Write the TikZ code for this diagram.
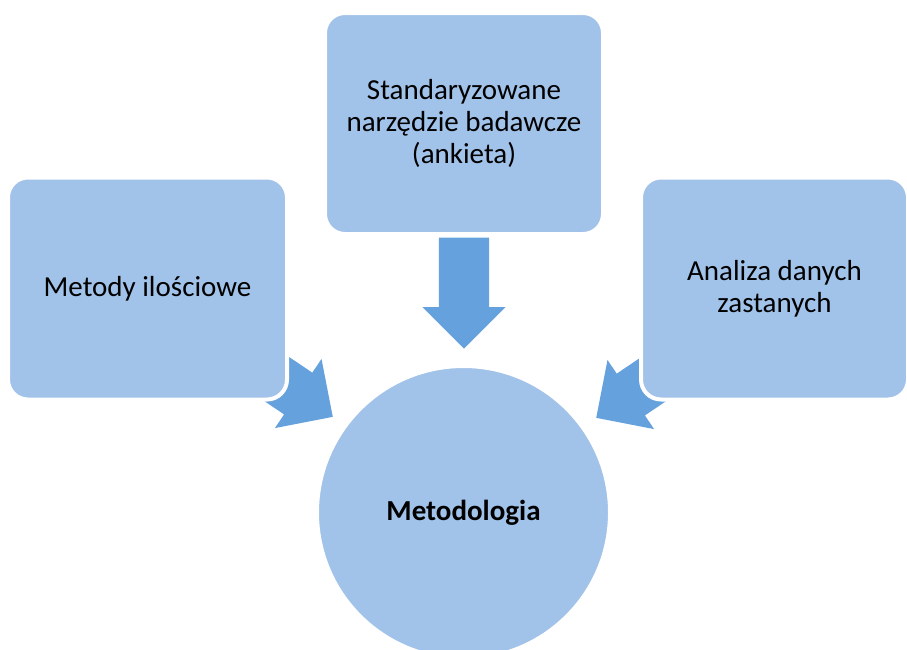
\documentclass[tikz,border=0pt]{standalone}
\usepackage{fontspec}
\setmainfont{Carlito}
\usetikzlibrary{shapes.arrows}
\definecolor{boxblue}{RGB}{161,194,233}
\definecolor{arrowblue}{RGB}{101,161,221}

\begin{document}
\begin{tikzpicture}[x=1pt, y=-1pt,
	box/.style={rectangle, rounded corners=20pt, fill=boxblue, draw=white, line width=4pt, align=center, inner sep=0pt, font=\fontsize{29}{32}\selectfont},
	bigarrow/.style={single arrow, anchor=tip, fill=arrowblue, draw=none, inner xsep=0pt, inner ysep=25pt, minimum height=111pt, single arrow head extend=16.5pt, single arrow tip angle=90}]
	\useasboundingbox (0,0) rectangle (907,649);

	% arrows (under the boxes)
	\node[bigarrow, rotate=-90] (arrtop) at (464,349) {};
	\node[bigarrow, rotate=-34] (arrleft) at (333,417) {};
	\node[bigarrow, rotate=-146] (arrright) at (596,418) {};

	% boxes
	\node[box, minimum width=279pt, minimum height=222pt] (ilosc) at (147.5,288.5) {Metody ilościowe};
	\node[box, minimum width=278pt, minimum height=221pt] (ankieta) at (464,123.5) {Standaryzowane\\narzędzie badawcze\\(ankieta)};
	\node[box, minimum width=267pt, minimum height=222pt] (analiza) at (774.5,288.5) {Analiza danych\\zastanych};

	% centre
	\node[circle, fill=boxblue, draw=white, line width=4pt, minimum size=293pt, font=\bfseries\fontsize{29}{32}\selectfont] (metod) at (463.5,512.5) {Metodologia};
\end{tikzpicture}
\end{document}
